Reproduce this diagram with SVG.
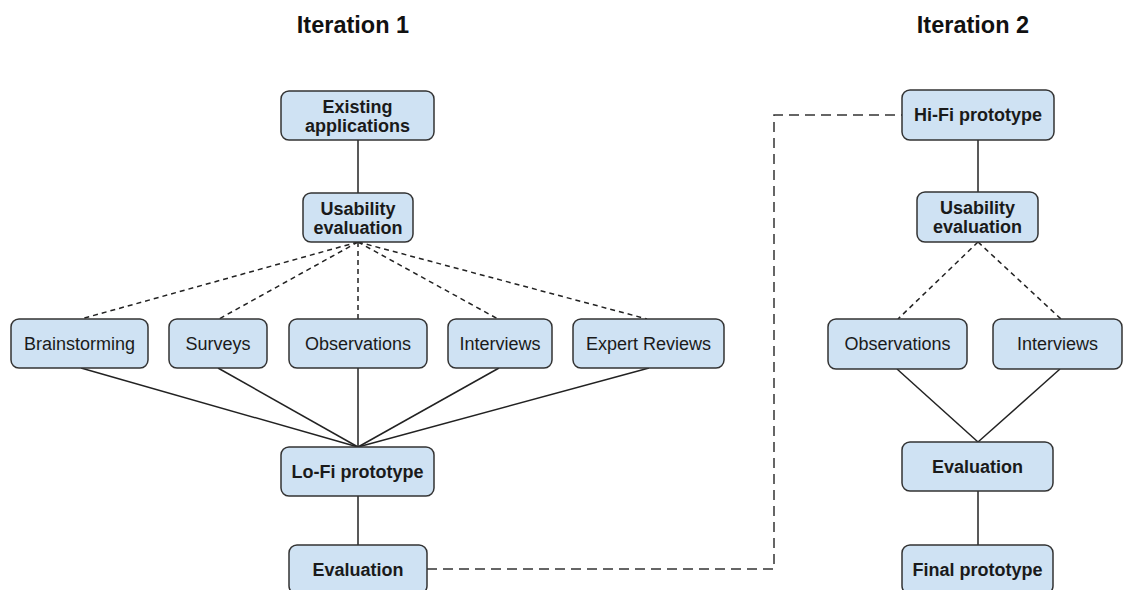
<svg xmlns="http://www.w3.org/2000/svg" width="1124" height="590" viewBox="0 0 1124 590">
<style>
.box{fill:#cfe2f3;stroke:#333;stroke-width:1.5}
.t{font-family:"Liberation Sans",Arial,sans-serif;font-size:18px;fill:#1a1a1a;text-anchor:middle}
.b{font-weight:bold}
.title{font-family:"Liberation Sans",Arial,sans-serif;font-size:23.5px;font-weight:bold;fill:#111;text-anchor:middle}
.solid{stroke:#222;stroke-width:1.5;fill:none}
.dash{stroke:#222;stroke-width:1.5;fill:none;stroke-dasharray:5,4}
.ldash{stroke:#333;stroke-width:1.5;fill:none;stroke-dasharray:10,6}
</style>
<rect width="1124" height="590" fill="#fff"/>
<text class="title" x="353" y="33">Iteration 1</text>
<text class="title" x="973" y="33">Iteration 2</text>
<g id="connectors">
<line class="solid" x1="358" y1="140" x2="358" y2="193"/>
<line class="dash" x1="358" y1="242" x2="81" y2="319"/>
<line class="dash" x1="358" y1="242" x2="219" y2="319"/>
<line class="dash" x1="358" y1="242" x2="358" y2="319"/>
<line class="dash" x1="358" y1="242" x2="498" y2="319"/>
<line class="dash" x1="358" y1="242" x2="647" y2="319"/>
<line class="solid" x1="81" y1="368" x2="358" y2="447"/>
<line class="solid" x1="218" y1="368" x2="358" y2="447"/>
<line class="solid" x1="358" y1="368" x2="358" y2="447"/>
<line class="solid" x1="499" y1="368" x2="358" y2="447"/>
<line class="solid" x1="649" y1="368" x2="358" y2="447"/>
<line class="solid" x1="358" y1="496" x2="358" y2="545"/>
<polyline class="ldash" points="427,569 774,569 774,115 902,115"/>
<line class="solid" x1="978" y1="140" x2="978" y2="192"/>
<line class="dash" x1="978" y1="242" x2="898" y2="319"/>
<line class="dash" x1="978" y1="242" x2="1061" y2="319"/>
<line class="solid" x1="897" y1="369" x2="978" y2="442"/>
<line class="solid" x1="1060" y1="369" x2="978" y2="442"/>
<line class="solid" x1="978" y1="491" x2="978" y2="545"/>
</g>
<g id="existing-applications"><rect class="box" x="281" y="91" width="153" height="49" rx="8"/><text class="t b" x="357.5" y="113">Existing</text><text class="t b" x="357.5" y="132">applications</text></g>
<g id="usability-evaluation-1"><rect class="box" x="303" y="193" width="110" height="49" rx="8"/><text class="t b" x="358" y="215">Usability</text><text class="t b" x="358" y="234">evaluation</text></g>
<g id="brainstorming"><rect class="box" x="11" y="319" width="137" height="49" rx="8"/><text class="t" x="79.5" y="350">Brainstorming</text></g>
<g id="surveys"><rect class="box" x="169" y="319" width="98" height="49" rx="8"/><text class="t" x="218" y="350">Surveys</text></g>
<g id="observations-1"><rect class="box" x="289" y="319" width="138" height="49" rx="8"/><text class="t" x="358" y="350">Observations</text></g>
<g id="interviews-1"><rect class="box" x="448" y="319" width="104" height="49" rx="8"/><text class="t" x="500" y="350">Interviews</text></g>
<g id="expert-reviews"><rect class="box" x="573" y="319" width="151" height="49" rx="8"/><text class="t" x="648.5" y="350">Expert Reviews</text></g>
<g id="lofi-prototype"><rect class="box" x="281" y="447" width="153" height="49" rx="8"/><text class="t b" x="357.5" y="478">Lo-Fi prototype</text></g>
<g id="evaluation-1"><rect class="box" x="289" y="545" width="138" height="49" rx="8"/><text class="t b" x="358" y="576">Evaluation</text></g>
<g id="hifi-prototype"><rect class="box" x="902" y="90" width="152" height="50" rx="8"/><text class="t b" x="978" y="121">Hi-Fi prototype</text></g>
<g id="usability-evaluation-2"><rect class="box" x="917" y="192" width="121" height="50" rx="8"/><text class="t b" x="977.5" y="214">Usability</text><text class="t b" x="977.5" y="233">evaluation</text></g>
<g id="observations-2"><rect class="box" x="828" y="319" width="139" height="50" rx="8"/><text class="t" x="897.5" y="350">Observations</text></g>
<g id="interviews-2"><rect class="box" x="993" y="319" width="129" height="50" rx="8"/><text class="t" x="1057.5" y="350">Interviews</text></g>
<g id="evaluation-2"><rect class="box" x="902" y="442" width="151" height="49" rx="8"/><text class="t b" x="977.5" y="473">Evaluation</text></g>
<g id="final-prototype"><rect class="box" x="902" y="545" width="151" height="49" rx="8"/><text class="t b" x="977.5" y="576">Final prototype</text></g>
</svg>
